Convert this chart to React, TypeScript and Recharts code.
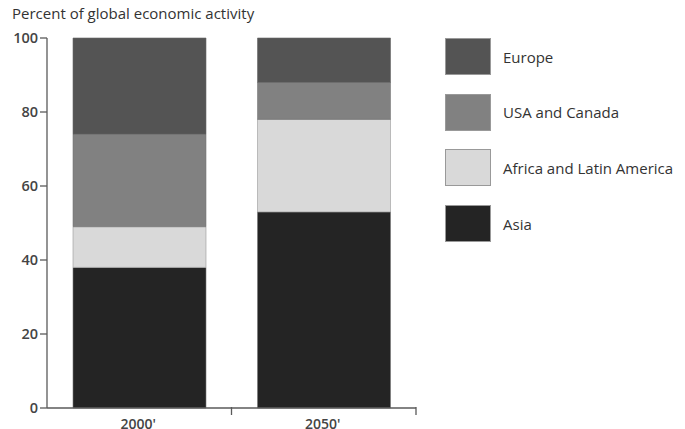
import React from 'react';
import { BarChart, Bar, XAxis, YAxis } from 'recharts';

const categories = ["2000'", "2050'"];
const asia = [38, 53];
const africaLatAm = [11, 25];
const usaCanada = [25, 10];
const europe = [26, 12];
const yTicks = [0, 20, 40, 60, 80, 100];

const series = [
  { key: 'europe', name: 'Europe', color: '#545454' },
  { key: 'usa', name: 'USA and Canada', color: '#818181' },
  { key: 'africa', name: 'Africa and Latin America', color: '#d9d9d9' },
  { key: 'asia', name: 'Asia', color: '#242424' },
];

const data = categories.map((c, i) => ({
  cat: c,
  asia: asia[i],
  africa: africaLatAm[i],
  usa: usaCanada[i],
  europe: europe[i],
}));

const FONT = '"Open Sans", "Noto Sans", sans-serif';
const AXIS = '#5a5a5a';

const XTick = (props: any) => {
  const { x, y, payload } = props;
  const half = payload && payload.offset ? payload.offset : 92.5;
  return (
    <g>
      <line x1={x + half} x2={x + half} y1={y - 1} y2={y - 9} stroke={AXIS} strokeWidth={1.3} />
      <text x={x - 1} y={y + 13} textAnchor="middle" fill="#444" fontSize={14} fontWeight={600} fontFamily={FONT}>
        {payload.value}
      </text>
    </g>
  );
};

export default function App() {
  return (
    <div style={{ position: 'absolute', left: 0, top: 0, width: 685, height: 429, background: '#fff', fontFamily: FONT }}>
      <div style={{ position: 'absolute', left: 12, top: 3, fontSize: 15, color: '#333', whiteSpace: 'nowrap' }}>
        Percent of global economic activity
      </div>
      <BarChart
        width={685}
        height={429}
        data={data}
        margin={{ top: 38, right: 269, bottom: 0, left: 0 }}
        barCategoryGap={26}
      >
        <XAxis
          dataKey="cat"
          height={21}
          tickLine={false}
          axisLine={{ stroke: AXIS, strokeWidth: 1.3 }}
          tick={<XTick />}
          interval={0}
        />
        <YAxis
          width={47}
          domain={[0, 100]}
          ticks={yTicks}
          tickSize={7}
          tickLine={{ stroke: AXIS, strokeWidth: 1.3 }}
          axisLine={{ stroke: AXIS, strokeWidth: 1.3 }}
          tick={{ fill: '#444', fontSize: 14.5, fontWeight: 600, fontFamily: FONT }}
          tickMargin={2}
        />
        <Bar dataKey="asia" stackId="s" fill="#242424" stroke="#777" strokeWidth={0.6} isAnimationActive={false} />
        <Bar dataKey="africa" stackId="s" fill="#d9d9d9" stroke="#999" strokeWidth={0.6} isAnimationActive={false} />
        <Bar dataKey="usa" stackId="s" fill="#818181" stroke="#777" strokeWidth={0.6} isAnimationActive={false} />
        <Bar dataKey="europe" stackId="s" fill="#545454" stroke="#666" strokeWidth={0.6} isAnimationActive={false} />
      </BarChart>
      {series.map((s, i) => (
        <div key={s.key} style={{ position: 'absolute', left: 445, top: 38 + i * 55.7, height: 37, display: 'flex', alignItems: 'center' }}>
          <div style={{ width: 44, height: 35, background: s.color, border: '1px solid #999' }} />
          <span style={{ marginLeft: 12, fontSize: 15, color: '#333', whiteSpace: 'nowrap' }}>{s.name}</span>
        </div>
      ))}
    </div>
  );
}
